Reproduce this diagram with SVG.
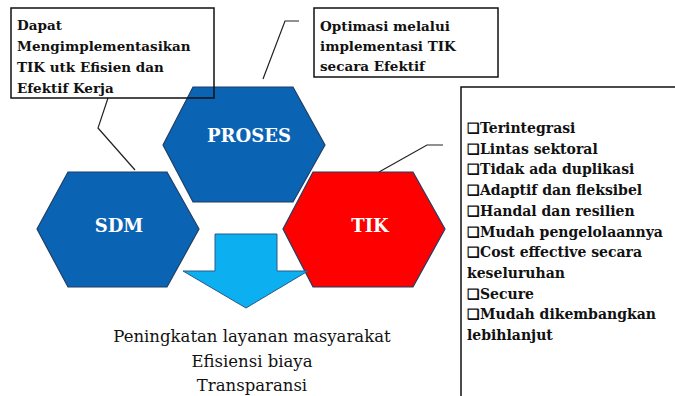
<svg xmlns="http://www.w3.org/2000/svg" width="675" height="396" viewBox="0 0 675 396">
  <style>
    .hex { stroke: #1f3f66; stroke-width: 1.2; }
    .blue { fill: #0b63b4; }
    .red { fill: #ff0000; }
    .serif { font-family: 'DejaVu Serif', 'Liberation Serif', serif; }
    .hexlabel { font-weight: bold; font-size: 18px; fill: #ffffff; text-anchor: middle; }
    .callout { fill: none; stroke: #111111; stroke-width: 1.5; }
    .note { font-weight: bold; font-size: 13.5px; fill: #111111; }
    .list { font-weight: bold; font-size: 14px; fill: #111111; }
    .result { font-size: 16.5px; fill: #111111; text-anchor: middle; }
    .leader { fill: none; stroke: #222222; stroke-width: 1.2; }
  </style>
  <rect width="675" height="396" fill="#ffffff"/>

  <!-- leader lines from the callouts to the hexagons -->
  <g id="connectors">
    <polyline class="leader" points="108,98 98,128 135,170"/>
    <polyline class="leader" points="299,21 285,21 263,79"/>
    <polyline class="leader" points="443,145 427,145 379,172"/>
  </g>

  <g id="proses">
    <polygon class="hex blue" points="193,87 293,87 325,145 293,202 193,202 163,145"/>
    <text class="serif hexlabel" x="249" y="142">PROSES</text>
  </g>

  <g id="sdm">
    <polygon class="hex blue" points="68,172 167,172 199,229 167,287 68,287 37,229"/>
    <text class="serif hexlabel" x="119" y="232">SDM</text>
  </g>

  <g id="tik">
    <polygon class="hex red" points="313,172 413,172 445,229 413,287 313,287 283,229"/>
    <text class="serif hexlabel" x="370" y="232">TIK</text>
  </g>

  <g id="arrow">
    <polygon points="215,234 277,234 277,271 308,271 246,308 183,271 215,271" fill="#0cb0f0" stroke="#2a5a86" stroke-width="1"/>
  </g>

  <!-- callout frames are unfilled, so the hexagon shows through where they overlap -->
  <g id="callout-sdm">
    <rect class="callout" x="11" y="8" width="203" height="90"/>
    <text class="serif note" x="17" y="30">Dapat</text>
    <text class="serif note" x="17" y="51">Mengimplementasikan</text>
    <text class="serif note" x="17" y="72">TIK utk Efisien dan</text>
    <text class="serif note" x="17" y="93">Efektif Kerja</text>
  </g>

  <g id="callout-proses">
    <rect class="callout" x="314" y="8" width="184" height="69"/>
    <text class="serif note" x="320" y="31">Optimasi melalui</text>
    <text class="serif note" x="320" y="51">implementasi TIK</text>
    <text class="serif note" x="320" y="71">secara Efektif</text>
  </g>

  <g id="callout-tik">
    <rect class="callout" x="461" y="87" width="300" height="400"/>
    <text class="serif list" x="467" y="133">❑Terintegrasi</text>
    <text class="serif list" x="467" y="153.7">❑Lintas sektoral</text>
    <text class="serif list" x="467" y="174.4">❑Tidak ada duplikasi</text>
    <text class="serif list" x="467" y="195.1">❑Adaptif dan fleksibel</text>
    <text class="serif list" x="467" y="215.8">❑Handal dan resilien</text>
    <text class="serif list" x="467" y="236.5">❑Mudah pengelolaannya</text>
    <text class="serif list" x="467" y="257.2">❑Cost effective secara</text>
    <text class="serif list" x="467" y="277.9">keseluruhan</text>
    <text class="serif list" x="467" y="298.6">❑Secure</text>
    <text class="serif list" x="467" y="319.3">❑Mudah dikembangkan</text>
    <text class="serif list" x="467" y="340">lebihlanjut</text>
  </g>

  <g id="outcomes">
    <text class="serif result" x="252" y="342">Peningkatan layanan masyarakat</text>
    <text class="serif result" x="252" y="367">Efisiensi biaya</text>
    <text class="serif result" x="252" y="391">Transparansi</text>
  </g>
</svg>
